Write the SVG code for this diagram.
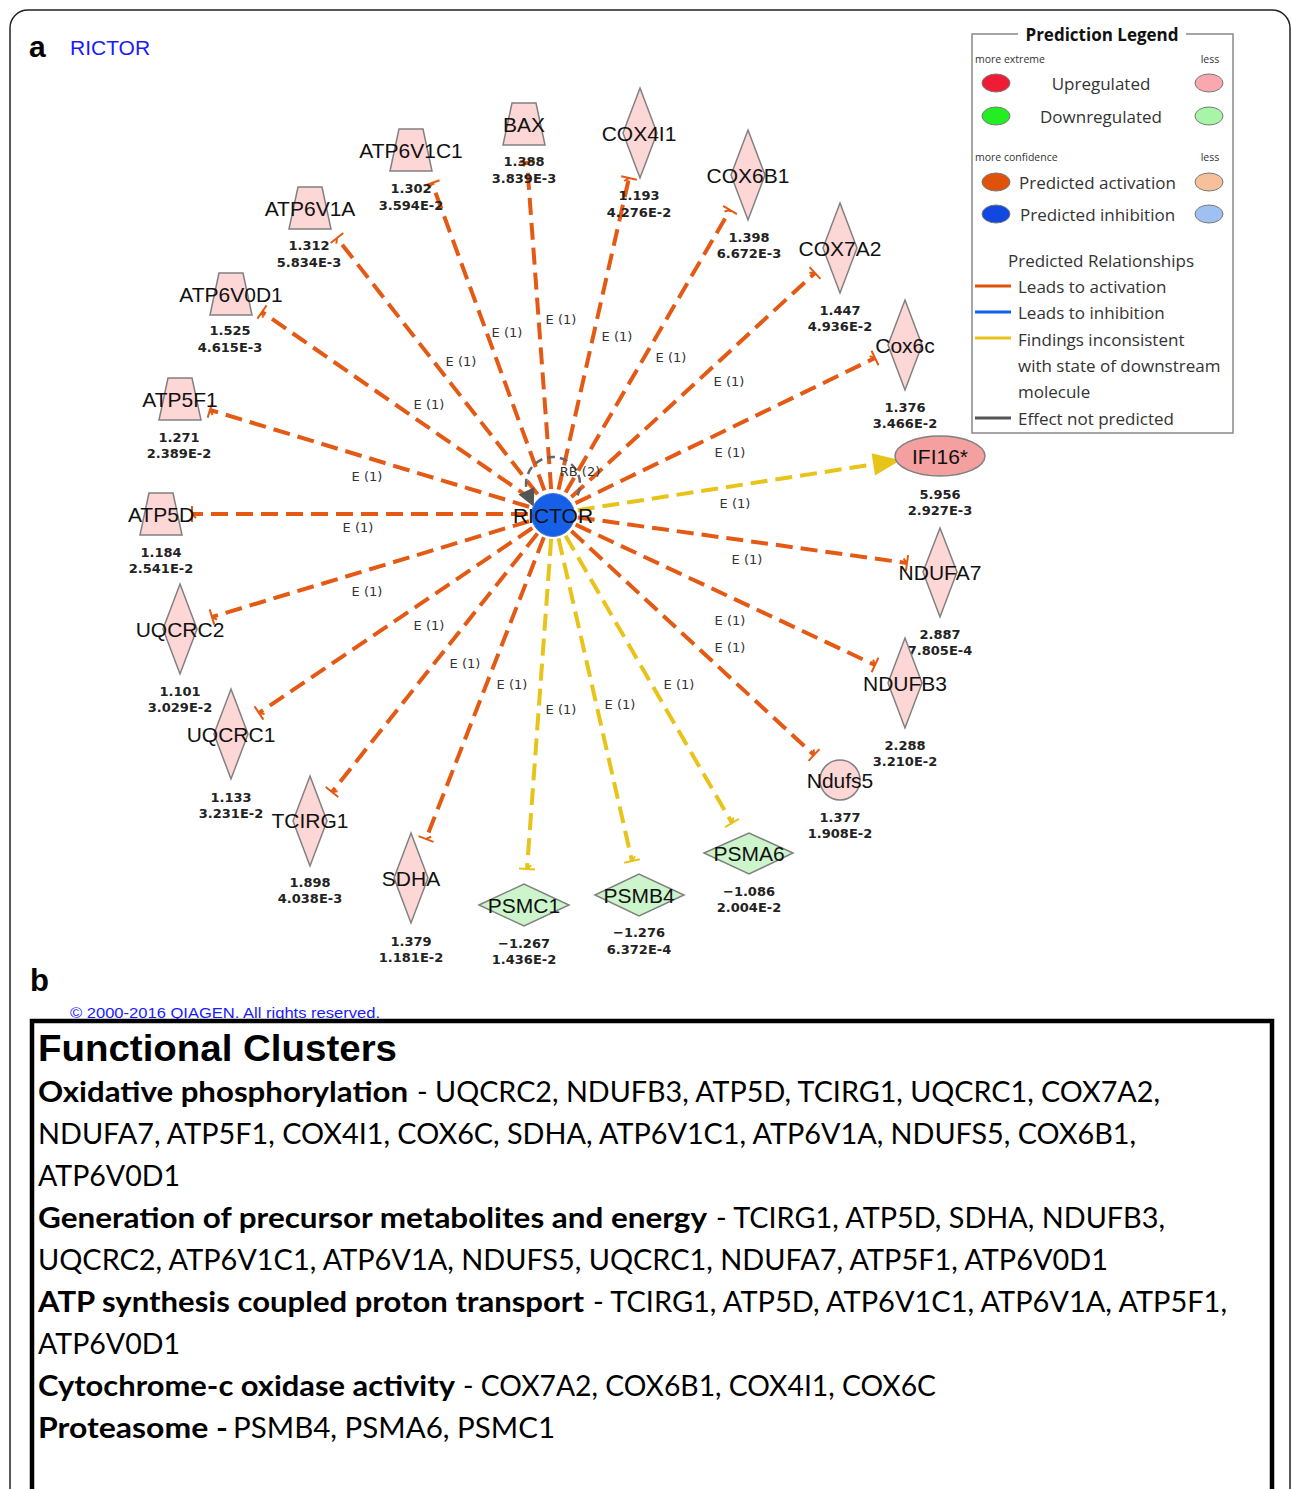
<svg xmlns="http://www.w3.org/2000/svg" width="1292" height="1489" viewBox="0 0 1292 1489">
<style>
.lbl{font-family:"Liberation Sans",Arial,sans-serif;font-size:21px;fill:#111;text-anchor:middle}
.val{font-family:"DejaVu Sans",sans-serif;font-weight:bold;font-size:13px;fill:#222;text-anchor:middle}
.el{font-family:"DejaVu Sans",sans-serif;font-size:13px;fill:#333;text-anchor:middle}
.up{fill:#fdd6d6;stroke:#808080;stroke-width:1.5}
.dn{fill:#ccf5cc;stroke:#808080;stroke-width:1.5}
.eo{stroke:#e45a14;stroke-width:4;stroke-dasharray:17 8;fill:none;marker-end:url(#barO)}
.ey{stroke:#e8c31a;stroke-width:4;stroke-dasharray:17 8;fill:none;marker-end:url(#barY)}
.lg{font-family:"Open Sans","Noto Sans",sans-serif;font-size:17px;fill:#333}
.lgs{font-family:"Open Sans","Noto Sans",sans-serif;font-size:10.5px;fill:#333}
.le{stroke:#777;stroke-width:1}
.tb{font-family:Lato,"Noto Sans",sans-serif;font-weight:700;font-size:29px;fill:#000}
.tn{font-family:Lato,"Noto Sans",sans-serif;font-weight:400;font-size:29px;fill:#000}
</style>
<defs>
<marker id="barO" markerUnits="userSpaceOnUse" markerWidth="20" markerHeight="20" viewBox="-10 -10 20 20" refX="0" refY="0" orient="auto" overflow="visible">
<path d="M0,-8 L0,8 M0,0 L-4,-4" stroke="#e45a14" stroke-width="2" fill="none"/>
</marker>
<marker id="barY" markerUnits="userSpaceOnUse" markerWidth="20" markerHeight="20" viewBox="-10 -10 20 20" refX="0" refY="0" orient="auto" overflow="visible">
<path d="M0,-8 L0,8 M0,0 L-4,-4" stroke="#e8c31a" stroke-width="2" fill="none"/>
</marker>
<marker id="arrY" markerUnits="userSpaceOnUse" markerWidth="30" markerHeight="30" viewBox="0 -10 24 20" refX="0" refY="0" orient="auto" overflow="visible">
<path d="M0,-9 L22,0 L0,9 z" fill="#e8c31a"/>
</marker>
<marker id="arrG" markerUnits="userSpaceOnUse" markerWidth="20" markerHeight="20" viewBox="0 -8 16 16" refX="4" refY="0" orient="auto" overflow="visible">
<path d="M0,-7 L14,0 L0,7 z" fill="#555"/>
</marker>
</defs>
<rect x="0" y="0" width="1292" height="1489" fill="#fff"/>
<rect x="10" y="10" width="1280" height="1520" rx="18" ry="18" fill="none" stroke="#222" stroke-width="1.5"/>
<text x="29" y="57" font-family="Liberation Sans,Arial,sans-serif" font-weight="bold" font-size="30" fill="#000">a</text>
<text x="70" y="55" font-family="Liberation Sans,Arial,sans-serif" font-size="21" fill="#1a1aff">RICTOR</text>

<g id="legend">
<rect x="972" y="34" width="261" height="399" fill="#fff" stroke="#888" stroke-width="1.5"/>
<rect x="1018" y="25" width="168" height="18" fill="#fff"/>
<text x="1102" y="41" text-anchor="middle" font-family="Open Sans,Noto Sans,sans-serif" font-weight="bold" font-size="17" fill="#111">Prediction Legend</text>
<text x="975" y="63" class="lgs">more extreme</text>
<text x="1210" y="63" class="lgs" text-anchor="middle">less</text>
<ellipse cx="996" cy="83" rx="14" ry="9" fill="#f01c36" stroke="#777"/>
<ellipse cx="1209" cy="83" rx="14" ry="9" fill="#f8a8ae" stroke="#777"/>
<text x="1101" y="90" class="lg" text-anchor="middle">Upregulated</text>
<ellipse cx="996" cy="116" rx="14" ry="9" fill="#22ee22" stroke="#777"/>
<ellipse cx="1209" cy="116" rx="14" ry="9" fill="#a8f5a8" stroke="#777"/>
<text x="1101" y="123" class="lg" text-anchor="middle">Downregulated</text>
<text x="975" y="161" class="lgs">more confidence</text>
<text x="1210" y="161" class="lgs" text-anchor="middle">less</text>
<ellipse cx="996" cy="182" rx="14" ry="9" fill="#e0520a" stroke="#777"/>
<ellipse cx="1209" cy="182" rx="14" ry="9" fill="#f5c09a" stroke="#777"/>
<text x="1019" y="189" class="lg">Predicted activation</text>
<ellipse cx="996" cy="214" rx="14" ry="9" fill="#1048e0" stroke="#777"/>
<ellipse cx="1209" cy="214" rx="14" ry="9" fill="#a0c0f2" stroke="#777"/>
<text x="1020" y="221" class="lg">Predicted inhibition</text>
<text x="1101" y="267" class="lg" text-anchor="middle">Predicted Relationships</text>
<line x1="975" y1="286" x2="1011" y2="286" stroke="#e0520a" stroke-width="3"/>
<text x="1018" y="293" class="lg">Leads to activation</text>
<line x1="975" y1="312" x2="1011" y2="312" stroke="#1060f0" stroke-width="3"/>
<text x="1018" y="319" class="lg">Leads to inhibition</text>
<line x1="975" y1="338" x2="1011" y2="338" stroke="#e8c31a" stroke-width="3"/>
<text x="1018" y="346" class="lg">Findings inconsistent</text>
<text x="1018" y="372" class="lg">with state of downstream</text>
<text x="1018" y="398" class="lg">molecule</text>
<line x1="975" y1="418" x2="1011" y2="418" stroke="#555" stroke-width="3"/>
<text x="1018" y="425" class="lg">Effect not predicted</text>
</g>

<g id="connectors">
<line class="eo" x1="553" y1="514" x2="432" y2="183"/>
<line class="eo" x1="553" y1="514" x2="527" y2="162"/>
<line class="eo" x1="553" y1="514" x2="337" y2="238"/>
<line class="eo" x1="553" y1="514" x2="262" y2="312"/>
<line class="eo" x1="553" y1="514" x2="210" y2="410"/>
<line class="eo" x1="553" y1="514" x2="192" y2="514"/>
<line class="eo" x1="553" y1="514" x2="212" y2="617"/>
<line class="eo" x1="553" y1="514" x2="259" y2="713"/>
<line class="eo" x1="553" y1="514" x2="332" y2="792"/>
<line class="eo" x1="553" y1="514" x2="426" y2="839"/>
<line class="eo" x1="553" y1="514" x2="814" y2="755"/>
<line class="eo" x1="553" y1="514" x2="875" y2="665"/>
<line class="eo" x1="553" y1="514" x2="907" y2="563"/>
<line class="eo" x1="553" y1="514" x2="875" y2="358"/>
<line class="eo" x1="553" y1="514" x2="815" y2="273"/>
<line class="eo" x1="553" y1="514" x2="730" y2="210"/>
<line class="eo" x1="553" y1="514" x2="629" y2="178"/>
<line class="ey" x1="553" y1="514" x2="527" y2="869"/>
<line class="ey" x1="553" y1="514" x2="632" y2="861"/>
<line class="ey" x1="553" y1="514" x2="732" y2="823"/>
<line x1="553" y1="514" x2="873.3" y2="464.4" stroke="#e8c31a" stroke-width="4" stroke-dasharray="17 8" marker-end="url(#arrY)"/>
<path d="M577.5,495.4 A27,27 0 1 0 528.5,495.4" fill="none" stroke="#666" stroke-width="2.5" stroke-dasharray="8 5" marker-end="url(#arrG)"/>
<text class="el" x="580" y="476">RB (2)</text>
<text class="el" x="507" y="337">E (1)</text>
<text class="el" x="561" y="324">E (1)</text>
<text class="el" x="461" y="366">E (1)</text>
<text class="el" x="617" y="341">E (1)</text>
<text class="el" x="671" y="362">E (1)</text>
<text class="el" x="429" y="409">E (1)</text>
<text class="el" x="729" y="386">E (1)</text>
<text class="el" x="367" y="481">E (1)</text>
<text class="el" x="730" y="457">E (1)</text>
<text class="el" x="735" y="508">E (1)</text>
<text class="el" x="358" y="532">E (1)</text>
<text class="el" x="747" y="564">E (1)</text>
<text class="el" x="367" y="596">E (1)</text>
<text class="el" x="730" y="625">E (1)</text>
<text class="el" x="730" y="652">E (1)</text>
<text class="el" x="429" y="630">E (1)</text>
<text class="el" x="465" y="668">E (1)</text>
<text class="el" x="512" y="689">E (1)</text>
<text class="el" x="561" y="714">E (1)</text>
<text class="el" x="620" y="709">E (1)</text>
<text class="el" x="679" y="689">E (1)</text>
</g>

<g id="RICTOR">
<circle cx="553" cy="515" r="21.5" fill="#1560e6" stroke="#4a7ad0" stroke-width="1"/>
<text class="lbl" x="553" y="523" fill="#222">RICTOR</text>
</g>

<g id="ATP6V1C1"><path class="up" d="M399,129 L423,129 L432,171 L390,171 Z"/><text class="lbl" x="411" y="158">ATP6V1C1</text><text class="val" x="411" y="193">1.302</text><text class="val" x="411" y="210">3.594E-2</text></g>
<g id="BAX"><path class="up" d="M512,103 L536,103 L545,145 L503,145 Z"/><text class="lbl" x="524" y="132">BAX</text><text class="val" x="524" y="166">1.388</text><text class="val" x="524" y="183">3.839E-3</text></g>
<g id="ATP6V1A"><path class="up" d="M298,187 L322,187 L331,229 L289,229 Z"/><text class="lbl" x="310" y="216">ATP6V1A</text><text class="val" x="309" y="250">1.312</text><text class="val" x="309" y="267">5.834E-3</text></g>
<g id="ATP6V0D1"><path class="up" d="M219,273 L243,273 L252,315 L210,315 Z"/><text class="lbl" x="231" y="302">ATP6V0D1</text><text class="val" x="230" y="335">1.525</text><text class="val" x="230" y="352">4.615E-3</text></g>
<g id="ATP5F1"><path class="up" d="M168,378 L192,378 L201,420 L159,420 Z"/><text class="lbl" x="180" y="407">ATP5F1</text><text class="val" x="179" y="442">1.271</text><text class="val" x="179" y="458">2.389E-2</text></g>
<g id="ATP5D"><path class="up" d="M149,493 L173,493 L182,535 L140,535 Z"/><text class="lbl" x="161" y="522">ATP5D</text><text class="val" x="161" y="557">1.184</text><text class="val" x="161" y="573">2.541E-2</text></g>

<g id="COX4I1"><path class="up" d="M640,88 L657,133 L640,178 L623,133 Z"/><text class="lbl" x="639" y="141">COX4I1</text><text class="val" x="639" y="200">1.193</text><text class="val" x="639" y="217">4.276E-2</text></g>
<g id="COX6B1"><path class="up" d="M748,130 L765,175 L748,220 L731,175 Z"/><text class="lbl" x="748" y="183">COX6B1</text><text class="val" x="749" y="242">1.398</text><text class="val" x="749" y="258">6.672E-3</text></g>
<g id="COX7A2"><path class="up" d="M840,203 L857,248 L840,293 L823,248 Z"/><text class="lbl" x="840" y="256">COX7A2</text><text class="val" x="840" y="315">1.447</text><text class="val" x="840" y="331">4.936E-2</text></g>
<g id="Cox6c"><path class="up" d="M905,300 L922,345 L905,390 L888,345 Z"/><text class="lbl" x="905" y="353">Cox6c</text><text class="val" x="905" y="412">1.376</text><text class="val" x="905" y="428">3.466E-2</text></g>
<g id="IFI16"><ellipse cx="940" cy="456" rx="45" ry="20" fill="#f5a0a0" stroke="#808080" stroke-width="1.5"/><text class="lbl" x="940" y="464">IFI16*</text><text class="val" x="940" y="499">5.956</text><text class="val" x="940" y="515">2.927E-3</text></g>
<g id="NDUFA7"><path class="up" d="M940,528 L957,572 L940,617 L923,572 Z"/><text class="lbl" x="940" y="580">NDUFA7</text><text class="val" x="940" y="639">2.887</text><text class="val" x="940" y="655">7.805E-4</text></g>
<g id="NDUFB3"><path class="up" d="M905,638 L922,683 L905,728 L888,683 Z"/><text class="lbl" x="905" y="691">NDUFB3</text><text class="val" x="905" y="750">2.288</text><text class="val" x="905" y="766">3.210E-2</text></g>
<g id="Ndufs5"><circle cx="840" cy="780" r="20" class="up"/><text class="lbl" x="840" y="788">Ndufs5</text><text class="val" x="840" y="822">1.377</text><text class="val" x="840" y="838">1.908E-2</text></g>

<g id="UQCRC2"><path class="up" d="M180,584 L197,629 L180,674 L163,629 Z"/><text class="lbl" x="180" y="637">UQCRC2</text><text class="val" x="180" y="696">1.101</text><text class="val" x="180" y="712">3.029E-2</text></g>
<g id="UQCRC1"><path class="up" d="M231,689 L248,734 L231,779 L214,734 Z"/><text class="lbl" x="231" y="742">UQCRC1</text><text class="val" x="231" y="802">1.133</text><text class="val" x="231" y="818">3.231E-2</text></g>
<g id="TCIRG1"><path class="up" d="M310,776 L327,821 L310,866 L293,821 Z"/><text class="lbl" x="310" y="828">TCIRG1</text><text class="val" x="310" y="887">1.898</text><text class="val" x="310" y="903">4.038E-3</text></g>
<g id="SDHA"><path class="up" d="M411,833 L428,878 L411,923 L394,878 Z"/><text class="lbl" x="411" y="886">SDHA</text><text class="val" x="411" y="946">1.379</text><text class="val" x="411" y="962">1.181E-2</text></g>

<g id="PSMC1"><path class="dn" d="M479,905 L524,884 L569,905 L524,926 Z"/><text class="lbl" x="524" y="913">PSMC1</text><text class="val" x="524" y="948">−1.267</text><text class="val" x="524" y="964">1.436E-2</text></g>
<g id="PSMB4"><path class="dn" d="M595,895 L639,874 L684,895 L639,916 Z"/><text class="lbl" x="639" y="903">PSMB4</text><text class="val" x="639" y="937">−1.276</text><text class="val" x="639" y="954">6.372E-4</text></g>
<g id="PSMA6"><path class="dn" d="M704,853 L749,833 L793,853 L749,874 Z"/><text class="lbl" x="749" y="861">PSMA6</text><text class="val" x="749" y="896">−1.086</text><text class="val" x="749" y="912">2.004E-2</text></g>

<text x="30" y="991" font-family="Liberation Sans,Arial,sans-serif" font-weight="bold" font-size="31" fill="#000">b</text>
<text x="70" y="1018" font-family="Liberation Sans,Arial,sans-serif" font-size="15.5" fill="#1a1aff" textLength="310" lengthAdjust="spacingAndGlyphs">© 2000-2016 QIAGEN. All rights reserved.</text>

<g id="clusters">
<rect x="32" y="1021" width="1240" height="520" fill="none" stroke="#000" stroke-width="4.5"/>
<text x="38" y="1061" font-family="Liberation Sans,Arial,sans-serif" font-weight="bold" font-size="37" fill="#000" textLength="359" lengthAdjust="spacingAndGlyphs">Functional Clusters</text>
<text class="tb" x="38" y="1102" textLength="370" lengthAdjust="spacingAndGlyphs">Oxidative phosphorylation</text>
<text class="tn" x="417" y="1102" textLength="743" lengthAdjust="spacingAndGlyphs">- UQCRC2, NDUFB3, ATP5D, TCIRG1, UQCRC1, COX7A2,</text>
<text class="tn" x="38" y="1144" textLength="1098" lengthAdjust="spacingAndGlyphs">NDUFA7, ATP5F1, COX4I1, COX6C, SDHA, ATP6V1C1, ATP6V1A, NDUFS5, COX6B1,</text>
<text class="tn" x="38" y="1186" textLength="142" lengthAdjust="spacingAndGlyphs">ATP6V0D1</text>
<text class="tb" x="38" y="1228" textLength="669" lengthAdjust="spacingAndGlyphs">Generation of precursor metabolites and energy</text>
<text class="tn" x="716" y="1228" textLength="449" lengthAdjust="spacingAndGlyphs">- TCIRG1, ATP5D, SDHA, NDUFB3,</text>
<text class="tn" x="38" y="1270" textLength="1070" lengthAdjust="spacingAndGlyphs">UQCRC2, ATP6V1C1, ATP6V1A, NDUFS5, UQCRC1, NDUFA7, ATP5F1, ATP6V0D1</text>
<text class="tb" x="38" y="1312" textLength="546" lengthAdjust="spacingAndGlyphs">ATP synthesis coupled proton transport</text>
<text class="tn" x="593" y="1312" textLength="634" lengthAdjust="spacingAndGlyphs">- TCIRG1, ATP5D, ATP6V1C1, ATP6V1A, ATP5F1,</text>
<text class="tn" x="38" y="1354" textLength="142" lengthAdjust="spacingAndGlyphs">ATP6V0D1</text>
<text class="tb" x="38" y="1396" textLength="417" lengthAdjust="spacingAndGlyphs">Cytochrome-c oxidase activity</text>
<text class="tn" x="463" y="1396" textLength="473" lengthAdjust="spacingAndGlyphs">- COX7A2, COX6B1, COX4I1, COX6C</text>
<text class="tb" x="38" y="1438" textLength="190" lengthAdjust="spacingAndGlyphs">Proteasome -</text>
<text class="tn" x="233" y="1438" textLength="322" lengthAdjust="spacingAndGlyphs">PSMB4, PSMA6, PSMC1</text>
</g>
</svg>
